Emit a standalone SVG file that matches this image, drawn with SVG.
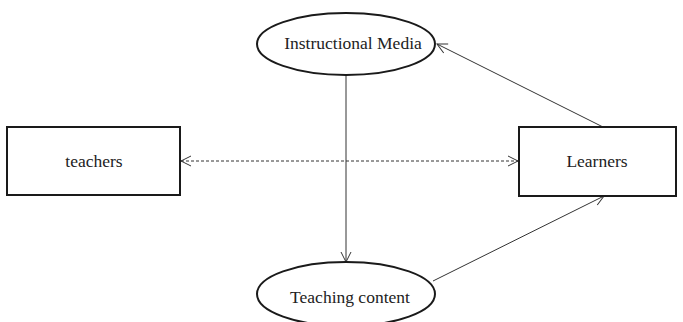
<svg xmlns="http://www.w3.org/2000/svg" width="683" height="322" viewBox="0 0 683 322">
  <style>
    .shape { fill: #ffffff; stroke: #1a1a1a; stroke-width: 2; }
    .label { font-family: "Liberation Serif", "Times New Roman", serif; font-size: 17.5px; fill: #222222; text-anchor: middle; }
    .link { fill: none; stroke: #333333; stroke-width: 1; }
    .dashed { stroke-dasharray: 3 2; }
  </style>
  <defs>
    <marker id="open-arrow" viewBox="0 0 12 12" refX="11" refY="6" markerWidth="12" markerHeight="12" markerUnits="userSpaceOnUse" orient="auto-start-reverse">
      <path d="M1,1 L11,6 L1,11" fill="none" stroke="#333333" stroke-width="1"/>
    </marker>
  </defs>

  <g id="connectors">
    <line class="link dashed" x1="181" y1="161" x2="518" y2="161" marker-start="url(#open-arrow)" marker-end="url(#open-arrow)"/>
    <line class="link" x1="346" y1="75" x2="346" y2="262" marker-end="url(#open-arrow)"/>
    <line class="link" x1="603" y1="127" x2="437" y2="44" marker-end="url(#open-arrow)"/>
    <line class="link" x1="433" y1="281" x2="604" y2="196" marker-end="url(#open-arrow)"/>
  </g>

  <g id="instructional-media">
    <ellipse class="shape" cx="346" cy="44" rx="89" ry="31"/>
    <text class="label" x="353" y="49">Instructional Media</text>
  </g>

  <g id="teachers">
    <rect class="shape" x="7" y="127" width="173" height="68"/>
    <text class="label" x="94" y="167">teachers</text>
  </g>

  <g id="learners">
    <rect class="shape" x="519" y="127" width="157" height="69"/>
    <text class="label" x="597" y="167">Learners</text>
  </g>

  <g id="teaching-content">
    <ellipse class="shape" cx="346" cy="294" rx="89" ry="32"/>
    <text class="label" x="350" y="303">Teaching content</text>
  </g>
</svg>
